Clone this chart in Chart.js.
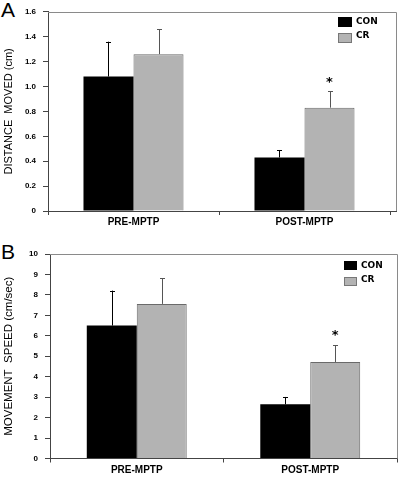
<!DOCTYPE html>
<html>
<head>
<meta charset="utf-8">
<script src="https://cdn.jsdelivr.net/npm/chart.js@4.4.1/dist/chart.umd.min.js"></script>
<style>
  html, body { margin: 0; padding: 0; background: #fff; }
  #wrap { position: relative; width: 400px; height: 477px; overflow: hidden; }
  canvas { position: absolute; left: 0; }
  .letter { position: absolute; left: 1px; font: 21px "Liberation Sans", Arial, sans-serif; color: #000; line-height: 1; }
</style>
</head>
<body>
<div id="wrap">
  <div class="letter" style="top:-1px">A</div>
  <canvas id="chartA" width="400" height="235" style="top:0"></canvas>
  <div class="letter" style="top:241px">B</div>
  <canvas id="chartB" width="400" height="239" style="top:238px"></canvas>
</div>
<script>
const categories = ['PRE-MPTP', 'POST-MPTP'];
const seriesNames = ['CON', 'CR'];

// panel A: distance moved (cm)
const distCon = [1.08, 0.43];
const distConErr = [0.28, 0.06];
const distCr = [1.26, 0.83];
const distCrErr = [0.20, 0.13];
const distSig = ['', '*'];

// panel B: movement speed (cm/sec)
const speedCon = [6.5, 2.65];
const speedConErr = [1.71, 0.36];
const speedCr = [7.56, 4.72];
const speedCrErr = [1.26, 0.83];
const speedSig = ['', '*'];

const conColor = '#000000';
const crColor = '#b3b3b3';

// whiskers (upward only) + significance star
const errorBars = {
  id: 'errorBars',
  afterDatasetsDraw(chart) {
    const ctx = chart.ctx;
    const y = chart.scales.y;
    chart.data.datasets.forEach((ds, i) => {
      const meta = chart.getDatasetMeta(i);
      meta.data.forEach((bar, j) => {
        const top = y.getPixelForValue(ds.data[j] + ds.errors[j]);
        ctx.save();
        ctx.strokeStyle = ds.errColor;
        ctx.lineWidth = 1;
        ctx.beginPath();
        ctx.moveTo(Math.round(bar.x) + 0.5, bar.y);
        ctx.lineTo(Math.round(bar.x) + 0.5, top);
        ctx.moveTo(Math.round(bar.x) - 2, Math.round(top) + 0.5);
        ctx.lineTo(Math.round(bar.x) + 3, Math.round(top) + 0.5);
        ctx.stroke();
        if (ds.sig && ds.sig[j]) {
          ctx.fillStyle = '#000';
          ctx.font = 'bold 13px "DejaVu Sans", sans-serif';
          ctx.textAlign = 'center';
          ctx.textBaseline = 'middle';
          ctx.fillText(ds.sig[j], bar.x, top - 9);
        }
        ctx.restore();
      });
    });
  }
};

// top/right border of the plot frame, and the inset legend
const frameAndLegend = {
  id: 'frameAndLegend',
  afterDraw(chart, args, opts) {
    const ctx = chart.ctx;
    const a = chart.chartArea;
    const r = a.right + opts.extra;
    ctx.save();
    ctx.strokeStyle = '#8a8a8a';
    ctx.lineWidth = 1;
    ctx.beginPath();
    ctx.moveTo(a.left, Math.round(a.top) + 0.5);
    ctx.lineTo(r + 0.5, Math.round(a.top) + 0.5);
    ctx.lineTo(r + 0.5, a.bottom);
    ctx.stroke();
    ctx.strokeStyle = '#444';
    ctx.beginPath();
    ctx.moveTo(a.right, Math.round(a.bottom) + 0.5);
    ctx.lineTo(r + 1, Math.round(a.bottom) + 0.5);
    ctx.stroke();

    const lg = opts.legend;
    ctx.font = 'bold 9px "DejaVu Sans", sans-serif';
    ctx.textBaseline = 'middle';
    chart.data.datasets.forEach((ds, i) => {
      const by = lg.y + i * lg.gap;
      ctx.fillStyle = ds.backgroundColor;
      ctx.fillRect(lg.x, by, lg.w, lg.h);
      if (i > 0) {
        ctx.strokeStyle = '#777';
        ctx.strokeRect(lg.x + 0.5, by + 0.5, lg.w - 1, lg.h - 1);
      }
      ctx.fillStyle = '#000';
      ctx.fillText(ds.label, lg.x + lg.w + 4, by + lg.h / 2 - (i > 0 ? 2 : 0));
    });
    ctx.restore();
  }
};

function makePanel(id, cfg) {
  return new Chart(document.getElementById(id), {
    type: 'bar',
    data: {
      labels: categories,
      datasets: [
        { label: seriesNames[0], data: cfg.con, errors: cfg.conErr, errColor: '#000',
          backgroundColor: conColor, borderColor: '#000', borderWidth: 0,
          categoryPercentage: cfg.catPct, barPercentage: 1 },
        { label: seriesNames[1], data: cfg.cr, errors: cfg.crErr, errColor: '#555', sig: cfg.sig,
          backgroundColor: crColor, borderColor: '#6a6a6a', borderWidth: 1, borderSkipped: 'bottom',
          categoryPercentage: cfg.catPct, barPercentage: 1 }
      ]
    },
    options: {
      responsive: false,
      animation: false,
      devicePixelRatio: 1,
      layout: { padding: { top: cfg.top, right: cfg.right, left: 0, bottom: 0 } },
      plugins: {
        legend: { display: false },
        tooltip: { enabled: false },
        frameAndLegend: { extra: cfg.extra, legend: cfg.legend }
      },
      scales: {
        x: {
          afterFit: s => { s.height = cfg.xh; },
          grid: { offset: true, drawOnChartArea: false, tickLength: 4, color: '#444' },
          border: { color: '#444', width: 1 },
          ticks: { color: '#000', padding: 1.5, font: { family: '"Liberation Sans", Arial, sans-serif', size: 10, weight: 'bold' } }
        },
        y: {
          min: 0, max: cfg.max,
          afterFit: s => { s.width = cfg.yw; },
          grid: { drawOnChartArea: false, tickLength: 5, color: '#444' },
          border: { color: '#444', width: 1 },
          ticks: { stepSize: cfg.step, color: '#000', padding: 7,
                   font: { family: '"Liberation Sans", Arial, sans-serif', size: 8, weight: 'bold' } },
          title: { display: true, text: cfg.title, color: '#000', padding: { top: 2, bottom: 0 },
                   font: { family: '"Liberation Sans", Arial, sans-serif', size: cfg.titleSize } }
        }
      }
    },
    plugins: [errorBars, frameAndLegend]
  });
}

makePanel('chartA', {
  con: distCon, conErr: distConErr, cr: distCr, crErr: distCrErr, sig: distSig,
  max: 1.6, step: 0.2, title: 'DISTANCE  MOVED (cm)', titleSize: 11,
  top: 11, right: 10, yw: 48, xh: 24, extra: 6, catPct: 0.585,
  legend: { x: 338, y: 17, w: 14, h: 10, gap: 16 }
});

makePanel('chartB', {
  con: speedCon, conErr: speedConErr, cr: speedCr, crErr: speedCrErr, sig: speedSig,
  max: 10, step: 1, title: 'MOVEMENT  SPEED (cm/sec)', titleSize: 11.5,
  top: 16, right: 3, yw: 50, xh: 18.5, extra: 0, catPct: 0.576,
  legend: { x: 344, y: 23, w: 13, h: 9, gap: 16 }
});
</script>
</body>
</html>
